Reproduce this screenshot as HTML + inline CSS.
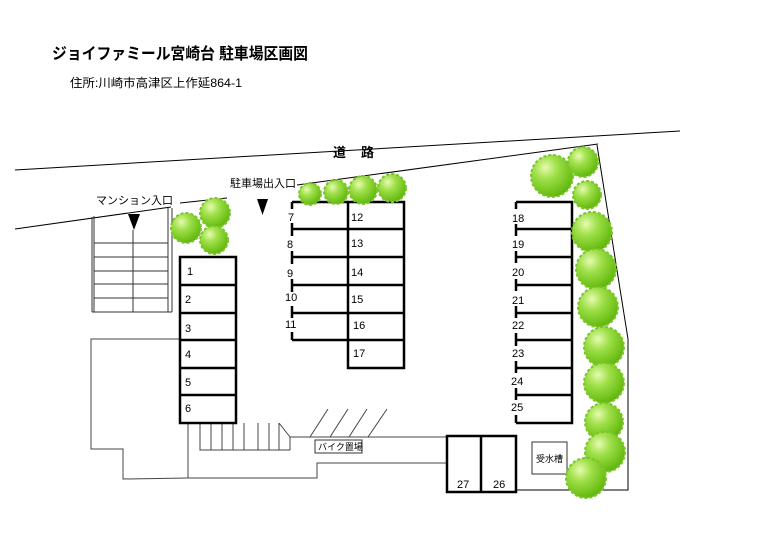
<!DOCTYPE html>
<html><head><meta charset="utf-8"><style>
body{margin:0;background:#fff;}
svg{display:block;font-family:"Liberation Sans","Noto Sans CJK JP",sans-serif;}
</style></head><body>
<svg width="774" height="556" viewBox="0 0 774 556" xmlns="http://www.w3.org/2000/svg">
<defs>
<radialGradient id="g" cx="0.35" cy="0.3" r="0.8">
<stop offset="0" stop-color="#e6fbb0"/><stop offset="0.35" stop-color="#9fe04a"/><stop offset="0.8" stop-color="#6cbf16"/><stop offset="1" stop-color="#5aa80e"/>
</radialGradient>
</defs>
<rect width="774" height="556" fill="#fff"/>
<text x="52" y="59" font-size="16" font-weight="bold" fill="#000" textLength="256" lengthAdjust="spacingAndGlyphs">ジョイファミール宮崎台  駐車場区画図</text>
<text x="70" y="87" font-size="12" fill="#000" textLength="172" lengthAdjust="spacingAndGlyphs">住所:川崎市高津区上作延864-1</text>
<g stroke="#000" stroke-width="1" fill="none">
<line x1="15" y1="170" x2="680" y2="131"/>
<line x1="15" y1="229" x2="171" y2="207"/>
<line x1="180" y1="203" x2="227" y2="198"/>
<line x1="297" y1="185" x2="598" y2="144"/>
<polyline points="597,145 628,339 628,490 516,490"/>
</g>
<text x="333" y="157" font-size="13" font-weight="bold">道</text>
<text x="361" y="157" font-size="13" font-weight="bold">路</text>
<text x="230" y="187" font-size="11">駐車場出入口</text>
<text x="96" y="204" font-size="11">マンション入口</text>
<polygon points="128,214 140,214 134,230" fill="#000"/>
<polygon points="257,199 268,199 262.5,215" fill="#000"/>
<g stroke="#333" stroke-width="1" fill="none">
<line x1="92" y1="217" x2="92" y2="312"/><line x1="94" y1="216" x2="94" y2="312"/>
<line x1="168" y1="208" x2="168" y2="312"/><line x1="172" y1="208" x2="172" y2="312"/>
<line x1="92" y1="312" x2="172" y2="312"/>
<line x1="133" y1="230" x2="133" y2="312"/>
<line x1="94" y1="243" x2="168" y2="243"/><line x1="94" y1="257" x2="168" y2="257"/>
<line x1="94" y1="271" x2="168" y2="271"/><line x1="94" y1="284" x2="168" y2="284"/>
<line x1="94" y1="298" x2="168" y2="298"/>
</g>
<g stroke="#444" stroke-width="1" fill="none">
<polyline points="180,339 91,339 91,449 123,449 123,479 188,478"/>
<line x1="188" y1="423" x2="188" y2="478"/>
<polyline points="188,478 317,478 317,463 447,463"/>
<line x1="290" y1="437" x2="447" y2="437"/>
<polyline points="200,423 200,450 290,450 290,437 279,423"/>
<line x1="211" y1="423" x2="211" y2="450"/><line x1="222" y1="423" x2="222" y2="450"/>
<line x1="233" y1="423" x2="233" y2="450"/><line x1="244" y1="423" x2="244" y2="450"/>
<line x1="258" y1="423" x2="258" y2="450"/><line x1="269" y1="423" x2="269" y2="450"/>
<line x1="279" y1="423" x2="279" y2="450"/>
<line x1="310" y1="437" x2="328" y2="409"/><line x1="330" y1="437" x2="348" y2="409"/>
<line x1="349" y1="437" x2="367" y2="409"/><line x1="368" y1="437" x2="387" y2="409"/>
</g>
<rect x="315" y="440" width="47" height="13" fill="#fff" stroke="#333"/>
<text x="318" y="450" font-size="9">バイク置場</text>
<g stroke="#000" stroke-width="2.5" fill="none">
<rect x="180" y="257" width="56" height="166"/>
<line x1="180" y1="285" x2="236" y2="285"/><line x1="180" y1="313" x2="236" y2="313"/>
<line x1="180" y1="340" x2="236" y2="340"/><line x1="180" y1="368" x2="236" y2="368"/>
<line x1="180" y1="395" x2="236" y2="395"/>
<rect x="348" y="202" width="56" height="166"/>
<line x1="292" y1="202" x2="348" y2="202"/>
<line x1="292" y1="229" x2="404" y2="229"/><line x1="292" y1="257" x2="404" y2="257"/>
<line x1="292" y1="285" x2="404" y2="285"/><line x1="292" y1="313" x2="404" y2="313"/>
<line x1="292" y1="340" x2="404" y2="340"/>
<line x1="292" y1="202" x2="292" y2="209"/><line x1="292" y1="223" x2="292" y2="236"/>
<line x1="292" y1="251" x2="292" y2="264"/><line x1="292" y1="279" x2="292" y2="292"/>
<line x1="292" y1="306" x2="292" y2="318"/><line x1="292" y1="332" x2="292" y2="340"/>
<polyline points="516,202 572,202 572,423 516,423"/>
<line x1="516" y1="229" x2="572" y2="229"/><line x1="516" y1="257" x2="572" y2="257"/>
<line x1="516" y1="285" x2="572" y2="285"/><line x1="516" y1="313" x2="572" y2="313"/>
<line x1="516" y1="340" x2="572" y2="340"/><line x1="516" y1="368" x2="572" y2="368"/>
<line x1="516" y1="395" x2="572" y2="395"/>
<line x1="516" y1="202" x2="516" y2="209"/><line x1="516" y1="224" x2="516" y2="236"/>
<line x1="516" y1="251" x2="516" y2="263"/><line x1="516" y1="279" x2="516" y2="291"/>
<line x1="516" y1="306" x2="516" y2="318"/><line x1="516" y1="333" x2="516" y2="346"/>
<line x1="516" y1="361" x2="516" y2="373"/><line x1="516" y1="388" x2="516" y2="400"/>
<line x1="516" y1="415" x2="516" y2="423"/>
<rect x="447" y="436" width="69" height="56"/>
<line x1="481" y1="436" x2="481" y2="492"/>
</g>
<rect x="532" y="442" width="35" height="32" fill="#fff" stroke="#333"/>
<text x="536" y="462" font-size="9">受水槽</text>
<g font-size="11" fill="#000">
<text x="187" y="275">1</text><text x="185" y="303">2</text><text x="185" y="332">3</text>
<text x="185" y="358">4</text><text x="185" y="386">5</text><text x="185" y="412">6</text>
<text x="288" y="221">7</text><text x="287" y="248">8</text><text x="287" y="277">9</text>
<text x="285" y="301">10</text><text x="285" y="328">11</text>
<text x="351" y="221">12</text><text x="351" y="247">13</text><text x="351" y="276">14</text>
<text x="351" y="303">15</text><text x="353" y="329">16</text><text x="353" y="357">17</text>
<text x="512" y="222">18</text><text x="512" y="248">19</text><text x="512" y="276">20</text>
<text x="512" y="304">21</text><text x="512" y="329">22</text><text x="512" y="357">23</text>
<text x="511" y="385">24</text><text x="511" y="411">25</text>
<text x="457" y="488">27</text><text x="493" y="488">26</text>
</g>
<g fill="url(#g)" stroke="#7bc52a" stroke-width="2" stroke-dasharray="3 2">
<circle cx="310" cy="194" r="11"/><circle cx="336" cy="192" r="12"/>
<circle cx="363" cy="190" r="14"/><circle cx="392" cy="188" r="14"/>
<circle cx="186" cy="228" r="15"/><circle cx="215" cy="213" r="15"/><circle cx="214" cy="240" r="14"/>
<circle cx="552" cy="176" r="21"/><circle cx="583" cy="162" r="15"/><circle cx="587" cy="195" r="14"/>
<circle cx="592" cy="232" r="20"/><circle cx="596" cy="269" r="20"/><circle cx="598" cy="307" r="20"/>
<circle cx="604" cy="347" r="20"/><circle cx="604" cy="383" r="20"/><circle cx="604" cy="422" r="19"/>
<circle cx="605" cy="452" r="20"/><circle cx="586" cy="478" r="20"/>
</g>
</svg>
</body></html>
